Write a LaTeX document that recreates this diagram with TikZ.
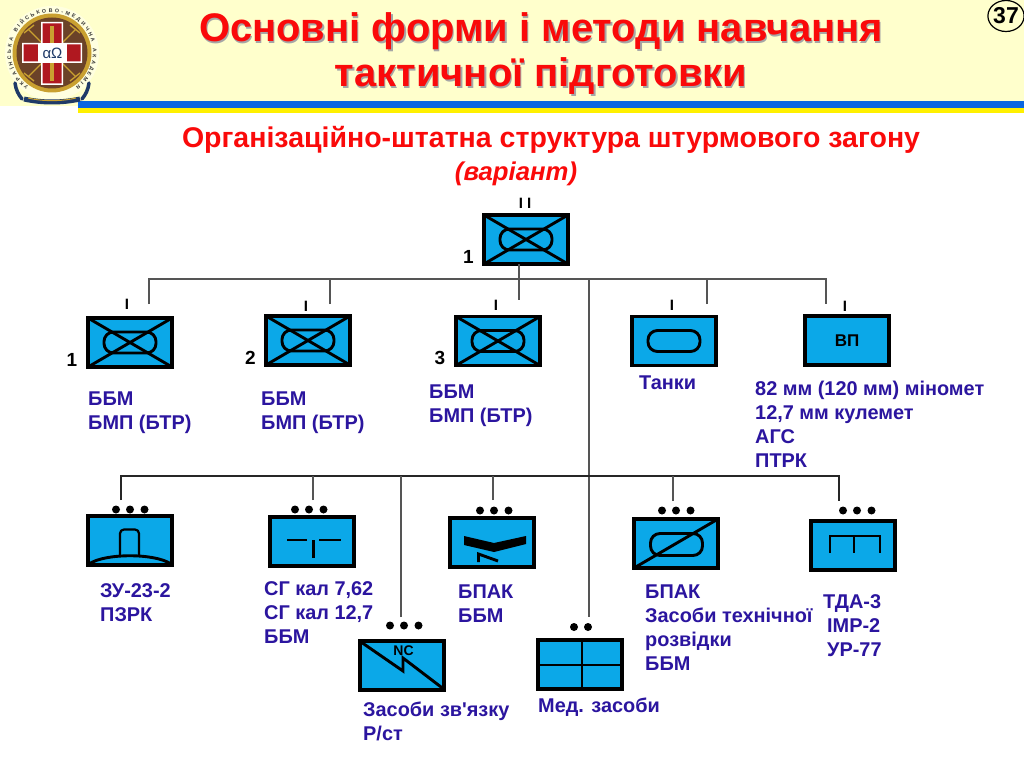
\documentclass[tikz,border=0pt]{standalone}
\usepackage{fontspec}
\setmainfont{Liberation Sans}[Ligatures=TeXOff]
\usetikzlibrary{decorations.text,calc,shapes.geometric}
\definecolor{headbg}{HTML}{FFFFCC}
\definecolor{stripeblue}{HTML}{0A66E0}
\definecolor{stripeyellow}{HTML}{FFF000}
\definecolor{unitblue}{HTML}{0BA8E8}
\definecolor{labelblue}{HTML}{2B159F}
\definecolor{titlered}{HTML}{FA0A0A}
\definecolor{linkgrey}{HTML}{555555}
\definecolor{embrown}{HTML}{6B4228}
\definecolor{emgold}{HTML}{C9A030}
\definecolor{emred}{HTML}{B01820}
\definecolor{emnavy}{HTML}{1F3A68}
\tikzset{
  unit/.style={draw=black,line width=3.2pt,fill=unitblue,minimum width=84pt,minimum height=49pt,inner sep=0pt,outer sep=0pt,anchor=north west},
  icon/.style={draw=black,line width=2.9pt},
  pill/.style={icon,rounded corners=9.5pt},
  bus/.style={draw=linkgrey,line width=1.1pt},
  busdark/.style={draw=black!85,line width=1.1pt},
  dot/.style={circle,fill=black,inner sep=0pt,minimum size=8pt},
  unitlabel/.style={anchor=north west,inner sep=0pt,align=left,text=labelblue,font=\fontsize{19.9}{24}\selectfont\bfseries,execute at begin node=\strut},
  echelon/.style={inner sep=0pt,font=\fontsize{15}{15}\selectfont\bfseries},
  numlabel/.style={inner sep=0pt,font=\fontsize{19}{19}\selectfont\bfseries},
  titletext/.style={inner sep=0pt,font=\fontsize{39.9}{45}\selectfont\bfseries},
}
\newcommand{\crossicon}[1]{%
  \draw[icon] (#1.north west) -- (#1.south east) (#1.north east) -- (#1.south west);
  \draw[pill] ($(#1.center)+(-26,-10.5)$) rectangle ($(#1.center)+(26,10.5)$);
}
\newcommand{\threedots}[3]{%
  \node[dot] at ($(#1.north)+(#2-14,#3)$) {};
  \node[dot] at ($(#1.north)+(#2,#3)$) {};
  \node[dot] at ($(#1.north)+(#2+14.5,#3)$) {};
}
\begin{document}
\begin{tikzpicture}[x=1pt,y=-1pt]
\useasboundingbox (0,0) rectangle (1024,767);
\fill[white] (0,0) rectangle (1024,767);
% header
\fill[headbg] (0,0) rectangle (1024,106);
\fill[stripeblue] (78,101) rectangle (1024,108);
\fill[stripeyellow] (78,108) rectangle (1024,113.5);
% emblem
\begin{scope}[shift={(52,53)},yscale=-1]
  \fill[headbg!60!white] (0,0) circle (47);
  \fill[emgold] (0,0) circle (39.5);
  \fill[embrown] (0,0) circle (35.5);
  \draw[emgold,line width=1.4pt] (-24,24) -- (24,-24) (-24,-24) -- (24,24);
  \draw[emgold,line width=1.4pt] (-28,20) -- (-18,28) (28,-20) -- (18,-28) (-28,-20) -- (-18,-28) (28,20) -- (18,28);
  \fill[white] (-11,31) rectangle (11,-32) (-30,10) rectangle (30,-10);
  \fill[emred] (-9.5,29.5) rectangle (9.5,-30.5) (-28.5,8.5) rectangle (28.5,-8.5);
  \fill[emgold] (-1.8,27) rectangle (1.8,-28);
  \fill[white] (-14,10) rectangle (15,-10);
  \node[inner sep=0pt,text=emnavy,font=\fontsize{15}{15}\selectfont] (alpha) at (0.5,0) {αΩ};
  \path[decorate,decoration={text along path,text align={fit to path},text={|\fontsize{5.2}{6}\selectfont\bfseries\color{black!80}|УКРАЇНСЬКА ВІЙСЬКОВО-МЕДИЧНА АКАДЕМІЯ}}] (235:41) arc (235:-55:41);
  \draw[emnavy,line width=5pt] (-28,-46) .. controls (-10,-50) and (10,-50) .. (28,-46);
  \draw[emnavy,line width=3.5pt,line cap=round] (-30,-46) .. controls (-34,-41) and (-36,-37) .. (-37,-30) (30,-46) .. controls (34,-41) and (36,-37) .. (37,-30);
  \draw[emgold,line width=1pt] (-24,-45) .. controls (-10,-48.5) and (10,-48.5) .. (24,-45);
\end{scope}
% titles
\node[titletext,text=black!35,align=center] at (542.3,55.3) {Основні форми і методи навчання\\тактичної підготовки};
\node[titletext,text=titlered,align=center] (title) at (541,54) {Основні форми і методи навчання\\тактичної підготовки};
\node[inner sep=0pt,text=titlered,font=\fontsize{28.5}{30}\selectfont\bfseries] (subtitle) at (551,140) {Організаційно-штатна структура штурмового загону};
\node[inner sep=0pt,text=titlered,font=\fontsize{25.7}{28}\selectfont\bfseries\itshape] (variant) at (516,174) {(варіант)};
\node[draw=black,line width=1.2pt,ellipse,inner sep=0pt,minimum width=35pt,minimum height=31pt,font=\fontsize{23}{24}\selectfont\bfseries] (pagenum) at (1006,16) {37};
% unit boxes
\node[unit] (hq) at (484,215) {};
\node[unit] (c1) at (88,318) {};
\node[unit] (c2) at (266,316) {};
\node[unit] (c3) at (456,316.5) {};
\node[unit] (tank) at (632,316.5) {};
\node[unit] (vp) at (805,316) {\fontsize{17}{17}\selectfont\bfseries ВП};
\node[unit] (zu) at (88,516) {};
\node[unit] (sg) at (270,517) {};
\node[unit] (bpa) at (450,518) {};
\node[unit] (nc) at (360,641) {};
\node[unit] (med) at (538,640) {};
\node[unit] (bpb) at (634,519) {};
\node[unit] (tda) at (811,521) {};
% connectors
\coordinate (bus1l) at (149,279);
\coordinate (bus1r) at (826,279);
\coordinate (bus2l) at (121,476);
\coordinate (bus2r) at (839,476);
\coordinate (d1) at (149,304);
\coordinate (d2) at (330,304);
\coordinate (d3) at (519,300);
\coordinate (d4) at (707,304);
\coordinate (d5) at (826,304);
\coordinate (e1) at (121,500);
\coordinate (e2) at (313,500);
\coordinate (e3) at (401,617);
\coordinate (e4) at (493,500);
\coordinate (e5) at (673,501);
\coordinate (e6) at (839,501);
\coordinate (spine) at (589,617);
\draw[bus] (d1) -- (bus1l) -- (bus1r) -- (d5);
\draw[bus] (d2) -- (d2 |- bus1l);
\draw[bus] (d4) -- (d4 |- bus1l);
\draw[bus] (d3 |- hq.south) -- (d3);
\draw[bus] (spine |- bus1l) -- (spine);
\draw[busdark] (e1) -- (bus2l) -- (bus2r) -- (e6);
\draw[bus] (e2) -- (e2 |- bus2l);
\draw[bus] (e3) -- (e3 |- bus2l);
\draw[bus] (e4) -- (e4 |- bus2l);
\draw[bus] (e5) -- (e5 |- bus2l);
% icons
\crossicon{hq}\crossicon{c1}\crossicon{c2}\crossicon{c3}
\draw[pill] ($(tank.center)+(-26,-10.5)$) rectangle ($(tank.center)+(26,10.5)$);
% ZU
\draw[icon,line width=2.2pt,rounded corners=4pt] (120,556) -- (120,529.5) -- (139,529.5) -- (139,556);
\draw[icon] (89,564) .. controls (105,553) and (155,553) .. (171,564);
% SG
\draw[icon] (287,540) -- (307,540) (319,540) -- (341,540) (313.5,540) -- (313.5,558);
% BPAK 1
\fill[black] (464,536) -- (494,543) -- (526,536) -- (526,544) -- (494,552) -- (464,545) -- cycle;
\draw[icon] (478.5,562) -- (478.5,554) -- (498,561);
% NC
\draw[icon] (361,642) -- (403,671) -- (403,658) -- (443,688.5);
\node[inner sep=0pt,font=\fontsize{14}{14}\selectfont\bfseries] (nctext) at (403.5,651) {NC};
% Med
\draw[icon] (582,641) -- (582,688) (539,665) -- (621,665);
% BPAK 2
\draw[pill] (650.5,533.5) rectangle (702.5,555.5);
\draw[icon] (bpb.south west) -- (bpb.north east);
% TDA
\draw[icon] (830,553) -- (830,536) -- (880,536) -- (880,553) (854,536) -- (854,553);
% echelon marks
\node[echelon] (m0) at (525,203.5) {I I};
\node[echelon] (m1) at (127,304.5) {I};
\node[echelon] (m2) at (306,306.5) {I};
\node[echelon] (m3) at (496,305.5) {I};
\node[echelon] (m4) at (672,305.5) {I};
\node[echelon] (m5) at (845,306.5) {I};
\node[numlabel] (n0) at (468.5,257) {1};
\node[numlabel] (n1) at (72,360) {1};
\node[numlabel] (n2) at (250.5,358) {2};
\node[numlabel] (n3) at (440,358) {3};
% dots
\threedots{zu}{0}{-6.5}
\threedots{sg}{-3}{-7.5}
\threedots{bpa}{2}{-7.5}
\threedots{nc}{2}{-15.5}
\threedots{bpb}{0}{-8.5}
\threedots{tda}{4}{-10.5}
\node[dot] at (574,627) {};
\node[dot] at (588,627) {};
% labels
\node[unitlabel] at (88,392) {ББМ\\БМП (БТР)};
\node[unitlabel] at (261,392) {ББМ\\БМП (БТР)};
\node[unitlabel] at (429,385) {ББМ\\БМП (БТР)};
\node[unitlabel] at (639,372) {Танки};
\node[unitlabel] at (755,381) {82 мм (120 мм) міномет\\12,7 мм кулемет\\АГС\\ПТРК};
\node[unitlabel] at (100,583) {ЗУ-23-2\\ПЗРК};
\node[unitlabel] at (264,581) {СГ кал 7,62\\СГ кал 12,7\\ББМ};
\node[unitlabel] at (458,585) {БПАК\\ББМ};
\node[unitlabel] at (645,585) {БПАК\\Засоби технічної\\розвідки\\ББМ};
\node[unitlabel] at (823,594) {ТДА-3\\\hspace*{4pt}ІМР-2\\\hspace*{4pt}УР-77};
\node[unitlabel] at (363,702) {Засоби зв'язку\\Р/ст};
\node[unitlabel] at (538,695) {Мед. засоби};
\end{tikzpicture}
\end{document}
